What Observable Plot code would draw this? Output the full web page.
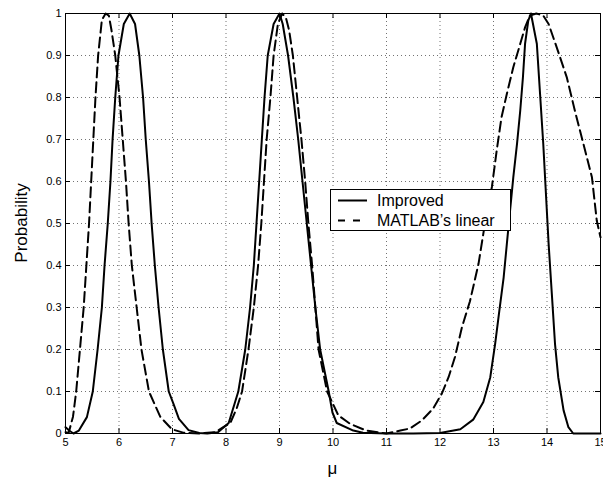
<!DOCTYPE html>
<html>
<head>
<meta charset="utf-8">
<script src="https://cdn.jsdelivr.net/npm/d3@7"></script>
<script src="https://cdn.jsdelivr.net/npm/@observablehq/plot@0.6"></script>
<style>
  html, body { margin: 0; padding: 0; background: #fff; }
  #chart { width: 603px; height: 483px; }
</style>
</head>
<body>
<div id="chart"></div>
<script>
// ---- data ----
const xTicks = [5, 6, 7, 8, 9, 10, 11, 12, 13, 14, 15];
const yTicks = [0, 0.1, 0.2, 0.3, 0.4, 0.5, 0.6, 0.7, 0.8, 0.9, 1];
const xLabel = "μ";
const yLabel = "Probability";
const seriesNames = ["Improved", "MATLAB’s linear"];

const muImproved = [5.00, 5.08, 5.15, 5.25, 5.40, 5.51, 5.60, 5.68, 5.73, 5.79, 5.84, 5.88, 5.93, 5.99, 6.09, 6.20, 6.30, 6.38, 6.45, 6.50, 6.56, 6.61, 6.67, 6.74, 6.82, 6.93, 7.02, 7.12, 7.30, 7.50, 7.65, 7.85, 8.05, 8.17, 8.23, 8.36, 8.45, 8.52, 8.57, 8.62, 8.67, 8.72, 8.78, 8.89, 9.00, 9.06, 9.16, 9.26, 9.35, 9.43, 9.51, 9.59, 9.67, 9.76, 9.92, 9.99, 10.07, 10.38, 10.56, 11.00, 11.50, 12.00, 12.38, 12.62, 12.81, 12.94, 13.03, 13.11, 13.19, 13.25, 13.31, 13.37, 13.44, 13.50, 13.55, 13.59, 13.65, 13.70, 13.81, 13.87, 13.93, 13.98, 14.03, 14.09, 14.15, 14.21, 14.31, 14.40, 14.49, 15.00];
const pImproved = [0.015, 0.006, 0.000, 0.007, 0.039, 0.10, 0.20, 0.30, 0.40, 0.50, 0.60, 0.70, 0.80, 0.90, 0.975, 1.00, 0.975, 0.90, 0.80, 0.70, 0.60, 0.50, 0.40, 0.30, 0.20, 0.10, 0.07, 0.035, 0.008, 0.001, 0.000, 0.003, 0.025, 0.075, 0.10, 0.20, 0.30, 0.40, 0.50, 0.60, 0.70, 0.80, 0.90, 0.975, 1.00, 0.975, 0.90, 0.80, 0.70, 0.60, 0.50, 0.40, 0.30, 0.20, 0.10, 0.05, 0.025, 0.007, 0.002, 0.000, 0.000, 0.001, 0.010, 0.033, 0.075, 0.134, 0.213, 0.293, 0.372, 0.452, 0.531, 0.610, 0.690, 0.769, 0.848, 0.928, 0.983, 1.00, 0.928, 0.809, 0.690, 0.571, 0.452, 0.333, 0.213, 0.134, 0.055, 0.015, 0.000, 0.000];

const muMatlab = [5.00, 5.06, 5.14, 5.20, 5.27, 5.34, 5.39, 5.44, 5.48, 5.52, 5.56, 5.61, 5.68, 5.75, 5.81, 5.86, 5.93, 6.01, 6.07, 6.13, 6.18, 6.24, 6.33, 6.42, 6.56, 6.77, 6.99, 7.20, 7.50, 7.80, 7.95, 8.08, 8.20, 8.30, 8.42, 8.52, 8.60, 8.66, 8.71, 8.76, 8.83, 8.89, 8.97, 9.05, 9.12, 9.18, 9.25, 9.33, 9.41, 9.48, 9.54, 9.61, 9.67, 9.73, 9.89, 10.10, 10.32, 10.62, 11.00, 11.26, 11.44, 11.66, 11.87, 12.03, 12.16, 12.28, 12.41, 12.56, 12.72, 12.84, 12.97, 13.06, 13.15, 13.25, 13.37, 13.50, 13.59, 13.68, 13.80, 13.93, 14.03, 14.18, 14.37, 14.52, 14.68, 14.84, 14.93, 15.00];
const pMatlab = [0.003, 0.002, 0.04, 0.10, 0.20, 0.30, 0.40, 0.50, 0.60, 0.70, 0.80, 0.90, 0.985, 1.00, 0.995, 0.96, 0.90, 0.80, 0.70, 0.60, 0.50, 0.40, 0.30, 0.20, 0.10, 0.04, 0.01, 0.002, 0.000, 0.003, 0.015, 0.025, 0.06, 0.10, 0.20, 0.30, 0.40, 0.50, 0.60, 0.70, 0.80, 0.90, 0.975, 1.00, 0.99, 0.96, 0.90, 0.80, 0.70, 0.60, 0.50, 0.40, 0.30, 0.20, 0.10, 0.043, 0.023, 0.007, 0.000, 0.007, 0.012, 0.031, 0.059, 0.094, 0.134, 0.182, 0.253, 0.315, 0.404, 0.50, 0.587, 0.674, 0.753, 0.809, 0.872, 0.928, 0.967, 0.995, 1.00, 0.995, 0.975, 0.92, 0.848, 0.769, 0.69, 0.61, 0.507, 0.467];

const improved = muImproved.map((m, i) => ({mu: m, p: pImproved[i]}));
const matlab = muMatlab.map((m, i) => ({mu: m, p: pMatlab[i]}));

// ---- layout ----
const W = 603, H = 483;
const mL = 65, mR = 3, mT = 13, mB = 50;
const plotW = W - mL - mR, plotH = H - mT - mB;
const tickLen = 5;
const font = "'Liberation Sans', Arial, Helvetica, sans-serif";
const gridStyle = {stroke: "#000", strokeOpacity: 0.55, strokeDasharray: "1,3", strokeWidth: 1};
const dashCurve = "10,5";

const svg = Plot.plot({
  width: W, height: H,
  marginLeft: mL, marginRight: mR, marginTop: mT, marginBottom: mB,
  style: {fontFamily: font, fontSize: "11px", background: "#fff", color: "#000", overflow: "visible"},
  x: {domain: [5, 15]},
  y: {domain: [0, 1]},
  marks: [
    Plot.gridX(xTicks, gridStyle),
    Plot.gridY(yTicks, gridStyle),
    Plot.line(matlab, {x: "mu", y: "p", stroke: "#000", strokeWidth: 2, strokeDasharray: dashCurve}),
    Plot.line(improved, {x: "mu", y: "p", stroke: "#000", strokeWidth: 2}),
    Plot.frame({stroke: "#000", strokeWidth: 1}),
    // inward ticks on all four sides
    Plot.tickX(xTicks, {x: d => d, insetTop: plotH - tickLen, stroke: "#000"}),
    Plot.tickX(xTicks, {x: d => d, insetBottom: plotH - tickLen, stroke: "#000"}),
    Plot.tickY(yTicks, {y: d => d, insetRight: plotW - tickLen, stroke: "#000"}),
    Plot.tickY(yTicks, {y: d => d, insetLeft: plotW - tickLen, stroke: "#000"}),
    Plot.axisX(xTicks, {tickSize: 0, tickPadding: 5, label: null, tickFormat: d => String(d)}),
    Plot.axisY(yTicks, {tickSize: 0, tickPadding: 4, label: null, tickFormat: d => String(d)})
  ]
});

document.getElementById("chart").appendChild(svg);

// ---- axis titles and legend ----
const s = d3.select(svg);
s.append("text")
  .attr("x", mL + plotW / 2).attr("y", 474)
  .attr("text-anchor", "middle")
  .style("font-family", font).style("font-size", "17px")
  .text(xLabel);
s.append("text")
  .attr("transform", `translate(27,${mT + plotH / 2}) rotate(-90)`)
  .attr("text-anchor", "middle")
  .style("font-family", font).style("font-size", "17px")
  .text(yLabel);

const lg = s.append("g");
lg.append("rect")
  .attr("x", 330.5).attr("y", 189.5).attr("width", 180).attr("height", 41)
  .attr("fill", "#fff").attr("stroke", "#000").attr("stroke-width", 1);
const rows = [
  {y: 200.5, dash: null},
  {y: 220.5, dash: "7,8"}
];
rows.forEach((r, i) => {
  lg.append("line")
    .attr("x1", 338).attr("x2", 367).attr("y1", r.y).attr("y2", r.y)
    .attr("stroke", "#000").attr("stroke-width", 2)
    .attr("stroke-dasharray", r.dash);
  lg.append("text")
    .attr("x", 377).attr("y", r.y + 5.5)
    .attr("text-anchor", "start")
    .style("font-family", font).style("font-size", "16px")
    .text(seriesNames[i]);
});
</script>
</body>
</html>
